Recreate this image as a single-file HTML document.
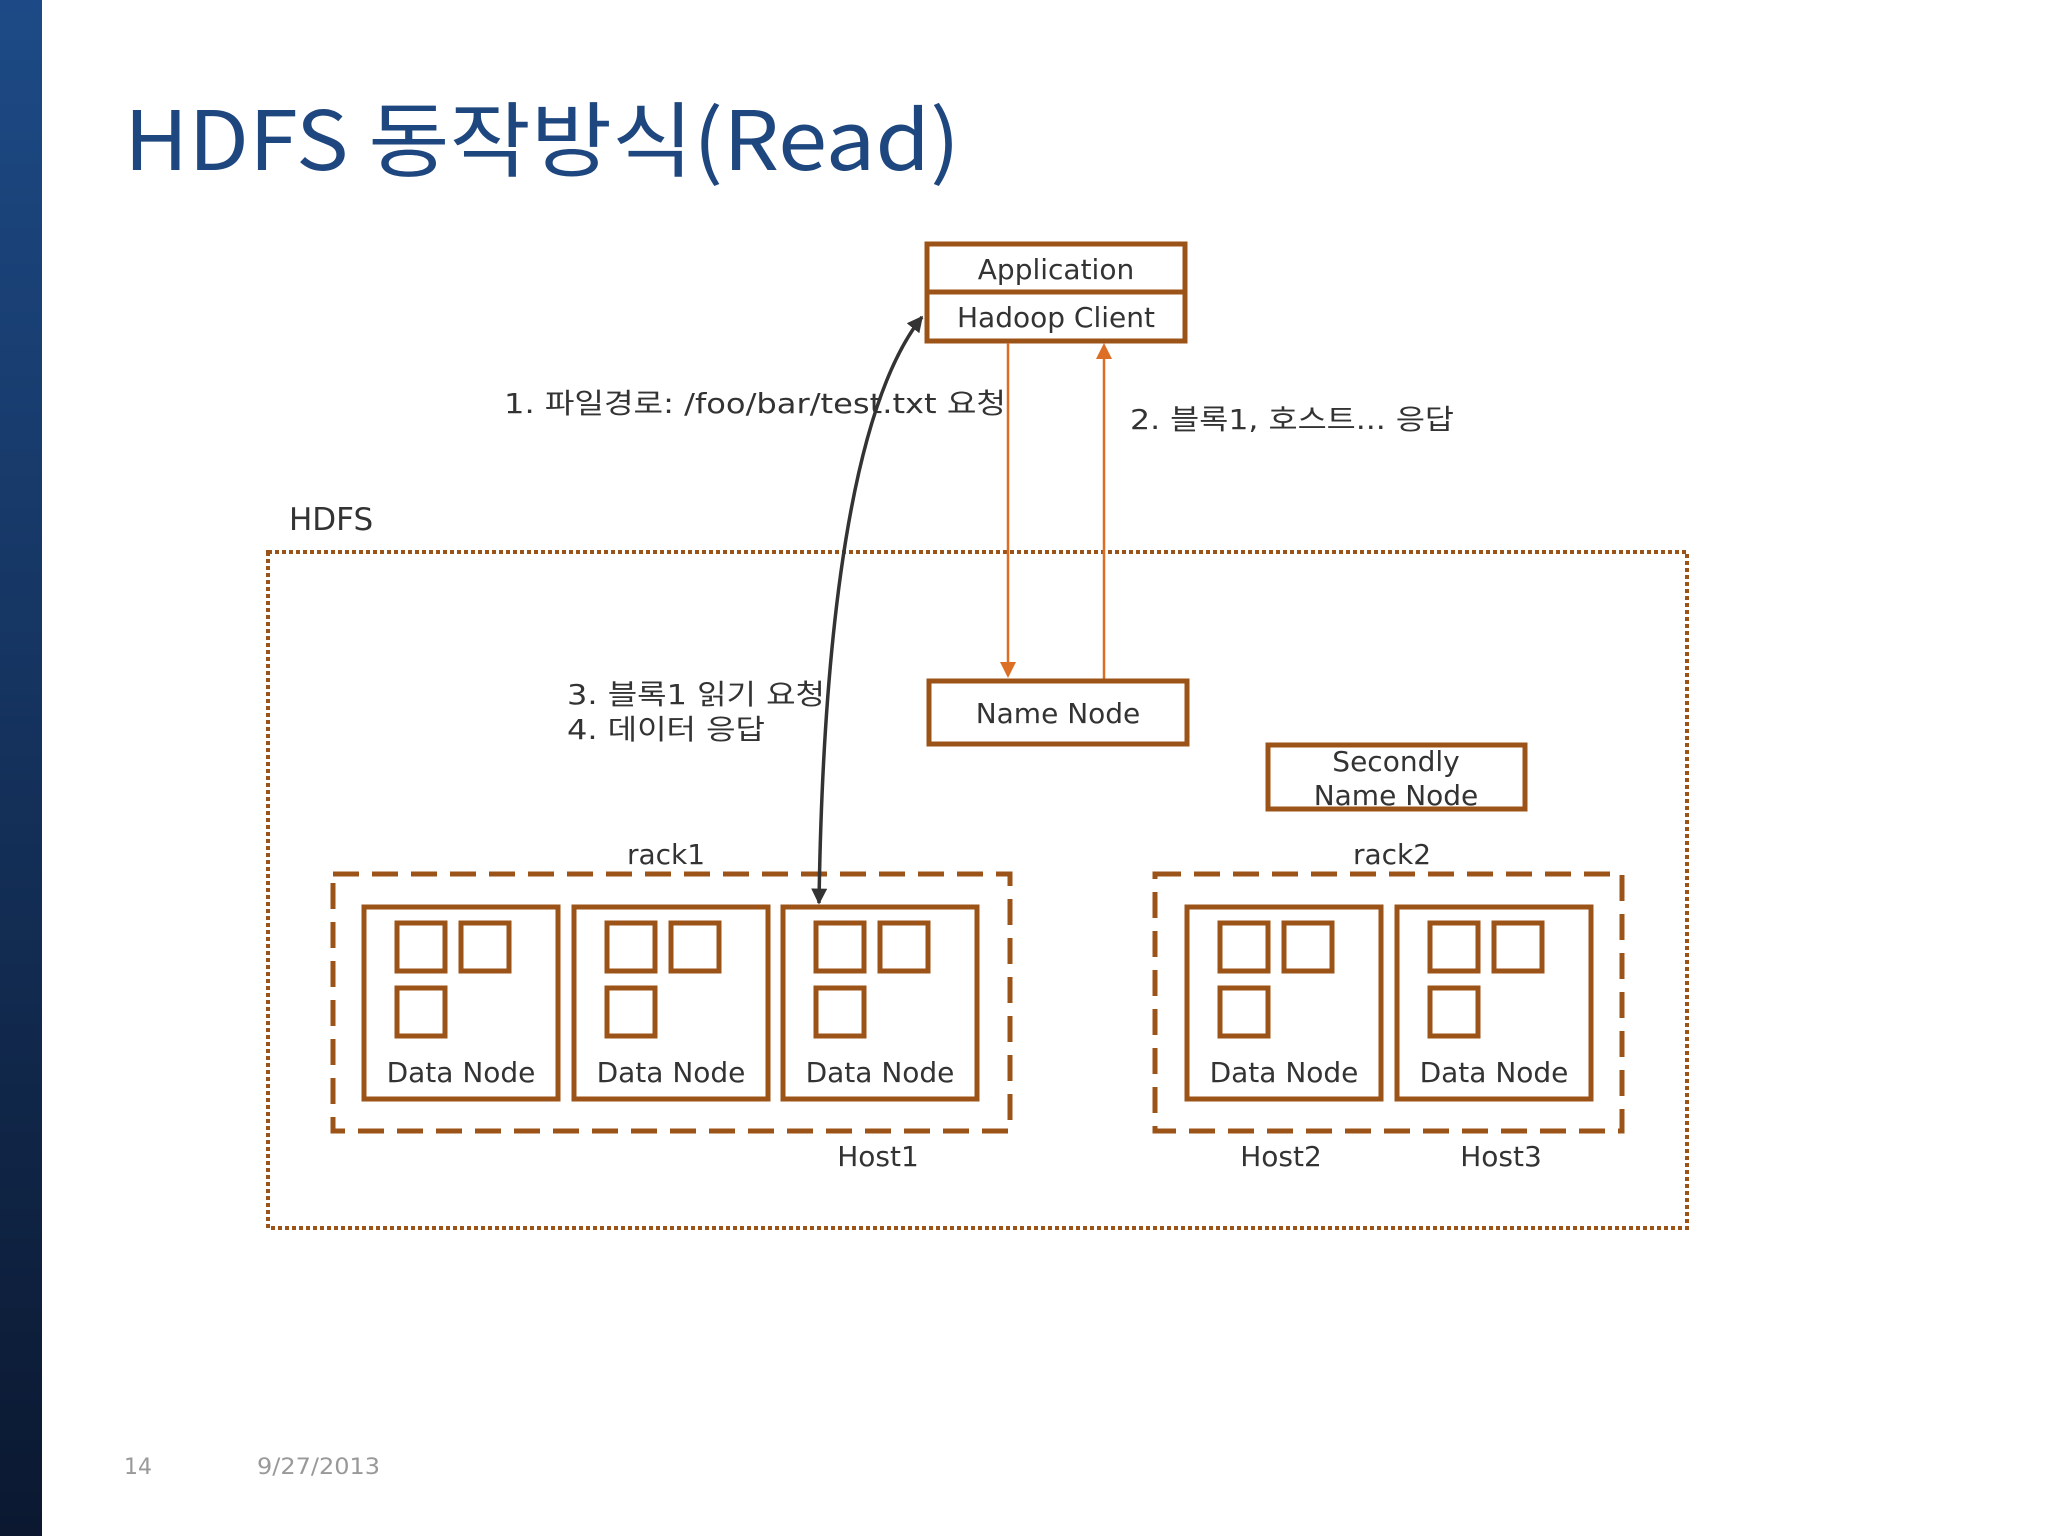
<!DOCTYPE html>
<html><head><meta charset="utf-8"><style>
html,body{margin:0;padding:0;}
body{width:2048px;height:1536px;background:#fff;position:relative;overflow:hidden;}
.bar{position:absolute;left:0;top:0;width:42px;height:1536px;background:linear-gradient(#1d4a86,#0b1830);}
svg{position:absolute;left:0;top:0;}
text{font-family:"DejaVu Sans","Noto Sans CJK KR",sans-serif;fill:#333;}
</style></head><body>
<div class="bar"></div>
<svg width="2048" height="1536" viewBox="0 0 2048 1536">
<defs>
<marker id="ab" viewBox="0 0 10 10" refX="9" refY="5" markerWidth="16" markerHeight="16" orient="auto-start-reverse" markerUnits="userSpaceOnUse"><path d="M0,0 L10,5 L0,10 z" fill="#333"/></marker>
</defs>
<text x="124" y="170" style="font-family:'Noto Sans CJK KR','DejaVu Sans',sans-serif;fill:#1f477f" font-size="82" textLength="836" lengthAdjust="spacingAndGlyphs">HDFS 동작방식(Read)</text>

<text x="289" y="530" font-size="31">HDFS</text>
<rect x="268" y="552" width="1419" height="676" fill="none" stroke="#9c5318" stroke-width="4" stroke-dasharray="4 3"/>

<rect x="927" y="244" width="258" height="97" fill="#fff" stroke="#9c5318" stroke-width="5"/>
<line x1="927" y1="292" x2="1185" y2="292" stroke="#9c5318" stroke-width="5"/>
<text x="1056" y="279" font-size="28" text-anchor="middle">Application</text>
<text x="1056" y="327" font-size="28" text-anchor="middle">Hadoop Client</text>

<line x1="1008" y1="343" x2="1008" y2="662" stroke="#dd6e25" stroke-width="2.5"/>
<path d="M1000,662 L1016,662 L1008,678 z" fill="#dd6e25"/>
<line x1="1104" y1="359" x2="1104" y2="679" stroke="#dd6e25" stroke-width="2.5"/>
<path d="M1096,359 L1112,359 L1104,343 z" fill="#dd6e25"/>

<rect x="929" y="681" width="258" height="63" fill="#fff" stroke="#9c5318" stroke-width="5"/>
<text x="1058" y="723" font-size="28" text-anchor="middle">Name Node</text>
<rect x="1268" y="745" width="257" height="64" fill="#fff" stroke="#9c5318" stroke-width="5"/>
<text x="1396" y="771" font-size="28" text-anchor="middle">Secondly</text>
<text x="1396" y="805" font-size="28" text-anchor="middle">Name Node</text>

<text x="504" y="413" font-size="28" textLength="502" lengthAdjust="spacingAndGlyphs">1. 파일경로: /foo/bar/test.txt 요청</text>
<text x="1130" y="429" font-size="28" textLength="324" lengthAdjust="spacingAndGlyphs">2. 블록1, 호스트... 응답</text>
<text x="567" y="704" font-size="28" textLength="258" lengthAdjust="spacingAndGlyphs">3. 블록1 읽기 요청</text>
<text x="567" y="739" font-size="28" textLength="198" lengthAdjust="spacingAndGlyphs">4. 데이터 응답</text>

<text x="666" y="864" font-size="28" text-anchor="middle">rack1</text>
<text x="1392" y="864" font-size="28" text-anchor="middle">rack2</text>
<rect x="333" y="874" width="677" height="257" fill="none" stroke="#9c5318" stroke-width="5" stroke-dasharray="26 13"/>
<rect x="1155" y="874" width="467" height="257" fill="none" stroke="#9c5318" stroke-width="5" stroke-dasharray="26 13"/>

<g id="dn">
<rect x="364" y="907" width="194" height="192" fill="#fff" stroke="#9c5318" stroke-width="5"/>
<rect x="397" y="923" width="48" height="48" fill="none" stroke="#9c5318" stroke-width="5"/>
<rect x="461" y="923" width="48" height="48" fill="none" stroke="#9c5318" stroke-width="5"/>
<rect x="397" y="988" width="48" height="48" fill="none" stroke="#9c5318" stroke-width="5"/>
<text x="461" y="1082" font-size="28" text-anchor="middle">Data Node</text>
</g>
<use href="#dn" x="210"/>
<use href="#dn" x="419"/>
<use href="#dn" x="823"/>
<use href="#dn" x="1033"/>

<text x="878" y="1166" font-size="28" text-anchor="middle">Host1</text>
<text x="1281" y="1166" font-size="28" text-anchor="middle">Host2</text>
<text x="1501" y="1166" font-size="28" text-anchor="middle">Host3</text>

<path d="M819,903 C822,700 840,420 922,317" fill="none" stroke="#333" stroke-width="3.5" marker-start="url(#ab)" marker-end="url(#ab)"/>

<text x="124" y="1474" font-size="22" style="fill:#999">14</text>
<text x="257" y="1474" font-size="22" style="fill:#999" textLength="123" lengthAdjust="spacingAndGlyphs">9/27/2013</text>
</svg>
</body></html>
